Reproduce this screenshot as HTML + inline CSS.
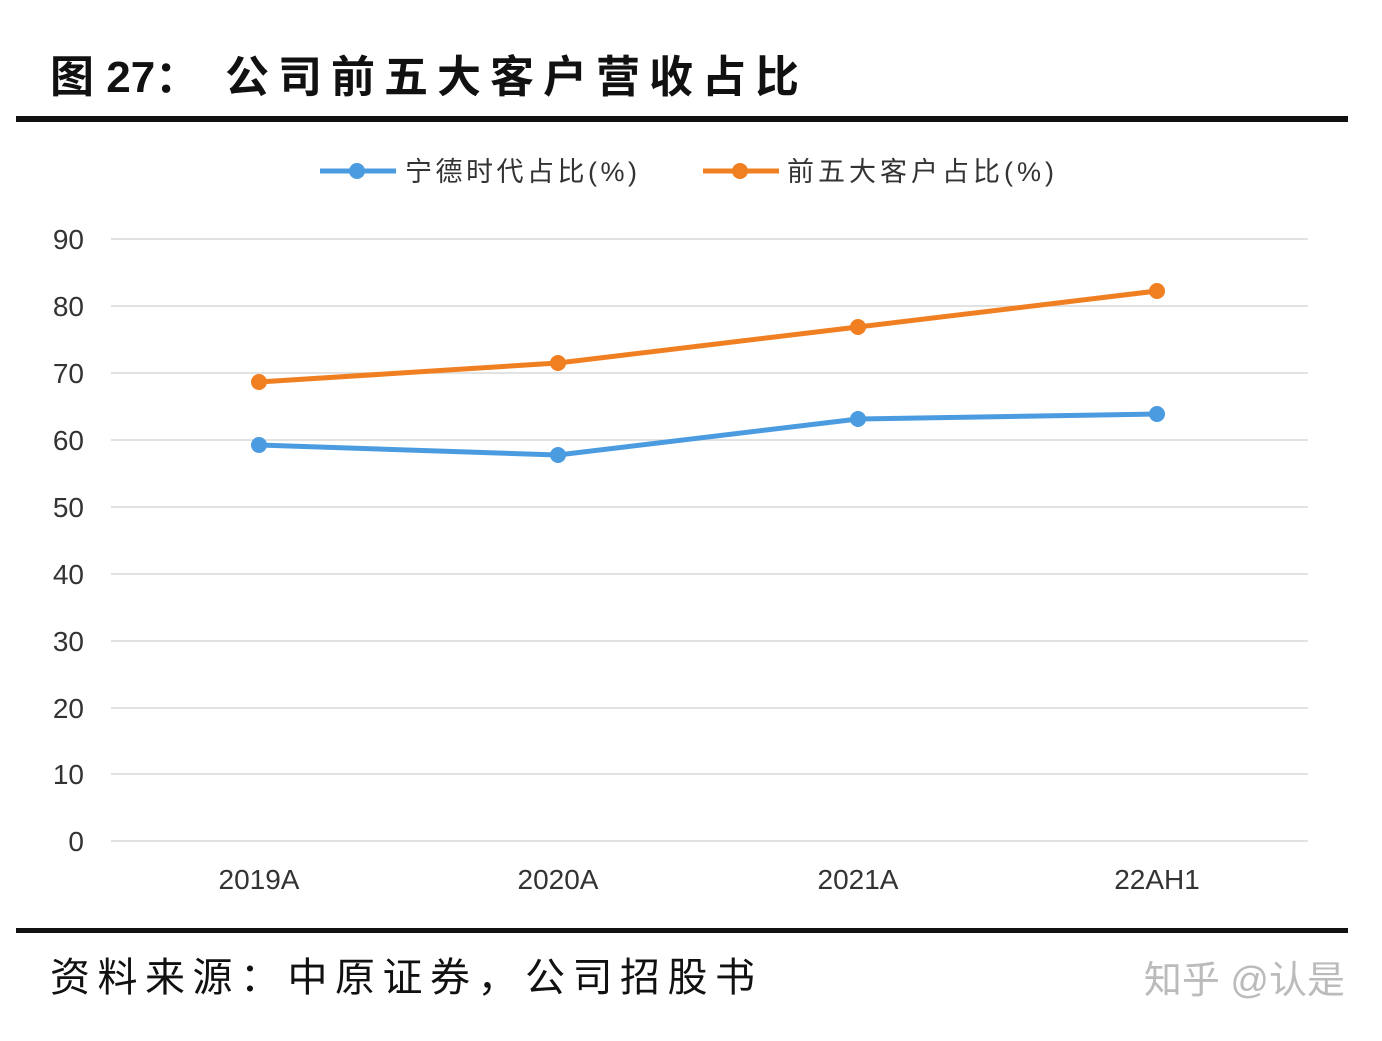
<!DOCTYPE html>
<html><head><meta charset="utf-8"><style>
body{margin:0;background:#fff;}
svg text{font-family:"Liberation Sans","Noto Sans CJK SC",sans-serif;}
</style></head><body>
<svg width="1382" height="1036" viewBox="0 0 1382 1036" xmlns="http://www.w3.org/2000/svg">
<rect width="1382" height="1036" fill="#fff"/>
<text x="50" y="92" font-size="44" font-weight="bold" fill="#111">图 27：</text>
<text x="225" y="92" font-size="44" font-weight="bold" fill="#111" letter-spacing="9">公司前五大客户营收占比</text>
<rect x="16" y="116" width="1332" height="6" fill="#111"/>
<g stroke="#d9d9d9" stroke-width="1.5">
<line x1="111" y1="239" x2="1308" y2="239"/>
<line x1="111" y1="306" x2="1308" y2="306"/>
<line x1="111" y1="373" x2="1308" y2="373"/>
<line x1="111" y1="440" x2="1308" y2="440"/>
<line x1="111" y1="507" x2="1308" y2="507"/>
<line x1="111" y1="574" x2="1308" y2="574"/>
<line x1="111" y1="641" x2="1308" y2="641"/>
<line x1="111" y1="708" x2="1308" y2="708"/>
<line x1="111" y1="774" x2="1308" y2="774"/>
<line x1="111" y1="841" x2="1308" y2="841"/>
</g>
<g font-size="28" fill="#333" text-anchor="end">
<text x="84" y="249">90</text><text x="84" y="316">80</text><text x="84" y="383">70</text>
<text x="84" y="450">60</text><text x="84" y="517">50</text><text x="84" y="584">40</text>
<text x="84" y="651">30</text><text x="84" y="718">20</text><text x="84" y="784">10</text>
<text x="84" y="851">0</text>
</g>
<g font-size="28" fill="#333" text-anchor="middle">
<text x="259" y="889">2019A</text><text x="558" y="889">2020A</text>
<text x="858" y="889">2021A</text><text x="1157" y="889">22AH1</text>
</g>
<polyline points="259,382 558,363 858,327 1157,291" fill="none" stroke="#f07f22" stroke-width="5"/>
<polyline points="259,445 558,455 858,419 1157,414" fill="none" stroke="#4b9be0" stroke-width="5"/>
<g fill="#f07f22"><circle cx="259" cy="382" r="8"/><circle cx="558" cy="363" r="8"/><circle cx="858" cy="327" r="8"/><circle cx="1157" cy="291" r="8"/></g>
<g fill="#4b9be0"><circle cx="259" cy="445" r="8"/><circle cx="558" cy="455" r="8"/><circle cx="858" cy="419" r="8"/><circle cx="1157" cy="414" r="8"/></g>
<line x1="320" y1="171" x2="396" y2="171" stroke="#4b9be0" stroke-width="5"/><circle cx="357" cy="171" r="8" fill="#4b9be0"/>
<text x="405" y="181" font-size="27" fill="#333" letter-spacing="3.5">宁德时代占比(%)</text>
<line x1="703" y1="171" x2="779" y2="171" stroke="#f07f22" stroke-width="5"/><circle cx="740" cy="171" r="8" fill="#f07f22"/>
<text x="787" y="181" font-size="27" fill="#333" letter-spacing="4">前五大客户占比(%)</text>
<rect x="16" y="928" width="1332" height="5" fill="#111"/>
<text x="50" y="991" font-size="40" fill="#111" letter-spacing="7.5">资料来源：中原证券，公司招股书</text>
<text x="1345" y="993" font-size="38" fill="#bbb" text-anchor="end">知乎 @认是</text>
</svg>
</body></html>
